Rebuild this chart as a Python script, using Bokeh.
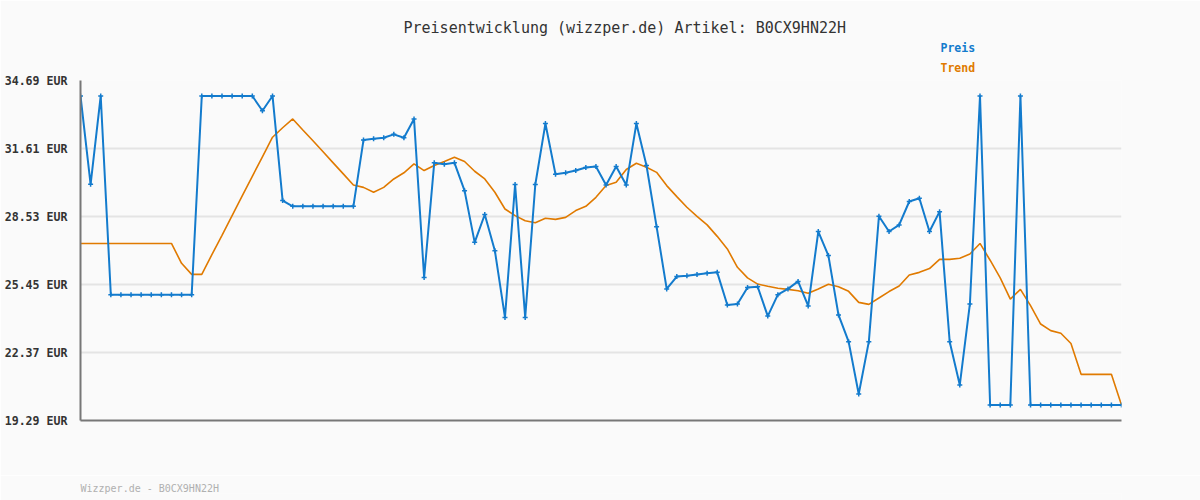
from bokeh.plotting import figure
from bokeh.models import Range1d, FixedTicker, PrintfTickFormatter, Title
from bokeh.layouts import column
from bokeh.embed import file_html
from bokeh.resources import INLINE

title_text = "Preisentwicklung (wizzper.de) Artikel: B0CX9HN22H"
footer_text = "Wizzper.de - B0CX9HN22H"
series_names = ["Preis", "Trend"]
y_ticks = [19.29, 22.37, 25.45, 28.53, 31.61, 34.69]

preis = [
    33.99, 29.99, 33.99,
    24.99, 24.99, 24.99, 24.99, 24.99, 24.99, 24.99, 24.99, 24.99,
    33.99, 33.99, 33.99, 33.99, 33.99, 33.99,
    33.32, 33.99, 29.25,
    28.99, 28.99, 28.99, 28.99, 28.99, 28.99, 28.99,
    31.99, 32.05, 32.10, 32.25, 32.10, 32.95, 25.77, 30.96, 30.90, 30.96,
    29.70, 27.36, 28.62, 26.98, 23.96, 29.98, 23.96, 29.98, 32.74, 30.44,
    30.51, 30.61, 30.75, 30.79, 29.96, 30.79, 29.96, 32.74, 30.84, 28.07,
    25.25, 25.81, 25.85, 25.90, 25.96, 26.00, 24.52, 24.57, 25.31, 25.35,
    24.02, 24.99, 25.25, 25.59, 24.48, 27.85, 26.76, 24.07, 22.86, 20.49,
    22.86, 28.54, 27.85, 28.15, 29.21, 29.36, 27.85, 28.75, 22.86, 20.90,
    24.57, 33.99,
    19.99, 19.99, 19.99, 33.99,
    19.99, 19.99, 19.99, 19.99, 19.99, 19.99, 19.99, 19.99, 19.99, 19.99,
]

trend = [
    27.31, 27.31, 27.31, 27.31, 27.31, 27.31, 27.31, 27.31, 27.31, 27.31,
    26.41, 25.91, 25.91, 26.80, 27.68, 28.57, 29.46, 30.35, 31.23, 32.12,
    32.55, 32.95, 32.45, 31.96, 31.46, 30.96, 30.46, 29.96, 29.85, 29.63,
    29.85, 30.23, 30.51, 30.91, 30.61, 30.84, 31.02, 31.21, 31.02, 30.58,
    30.23, 29.63, 28.87, 28.57, 28.34, 28.25, 28.45, 28.40, 28.49, 28.80,
    28.99, 29.40, 29.93, 30.08, 30.66, 30.94, 30.76, 30.53, 29.93, 29.43,
    28.95, 28.54, 28.15, 27.63, 27.06, 26.23, 25.75, 25.47, 25.37, 25.28,
    25.23, 25.17, 25.05, 25.25, 25.46, 25.35, 25.14, 24.64, 24.55, 24.84,
    25.13, 25.38, 25.88, 26.00, 26.17, 26.59, 26.59, 26.64, 26.83, 27.31,
    26.55, 25.75, 24.79, 25.23, 24.49, 23.66, 23.36, 23.24, 22.78, 21.38,
    21.38, 21.38, 21.38, 19.99,
]

idx = list(range(len(preis)))

BLUE = "#137bcd"
ORANGE = "#e07a00"
BG = "#fafafa"
MONO = "DejaVu Sans Mono"

p = figure(width=1200, height=475, output_backend="svg", toolbar_location=None, title=None,
           x_range=Range1d(0, len(preis) - 1), y_range=Range1d(y_ticks[0], y_ticks[-1]),
           min_border_left=80, min_border_right=79, min_border_top=80, min_border_bottom=55,
           background_fill_color=BG, border_fill_color=BG, outline_line_color=None)

# axes
p.xaxis.ticker = FixedTicker(ticks=[])
p.xaxis.major_tick_line_color = None
p.xaxis.minor_tick_line_color = None
p.xaxis.axis_line_color = "#777777"
p.xaxis.axis_line_width = 2
p.xgrid.grid_line_color = None

p.yaxis.ticker = FixedTicker(ticks=y_ticks)
p.yaxis.formatter = PrintfTickFormatter(format="%.2f EUR")
p.yaxis.major_tick_line_color = None
p.yaxis.minor_tick_line_color = None
p.yaxis.axis_line_color = "#777777"
p.yaxis.axis_line_width = 2
p.yaxis.major_label_text_font = MONO
p.yaxis.major_label_text_font_style = "bold"
p.yaxis.major_label_text_font_size = "11.6px"
p.yaxis.major_label_text_color = "#333333"
p.yaxis.major_label_standoff = 7

p.ygrid.ticker = FixedTicker(ticks=y_ticks)
p.ygrid.grid_line_color = "#e4e4e4"
p.ygrid.grid_line_width = 2

# series
p.line(idx, trend, line_color=ORANGE, line_width=1.6)
p.line(idx, preis, line_color=BLUE, line_width=2)
p.scatter(idx, preis, marker="cross", size=5, line_color=BLUE, line_width=1.5)

# heading rows (first added sits closest to the plot frame)
p.add_layout(Title(text=series_names[1], align="left", offset=860, standoff=8, vertical_align="top",
                   text_font=MONO, text_font_size="11.5px", text_font_style="bold",
                   text_color=ORANGE), "above")
p.add_layout(Title(text=series_names[0], align="left", offset=860, standoff=4, vertical_align="bottom",
                   text_font=MONO, text_font_size="11.5px", text_font_style="bold",
                   text_color=BLUE), "above")
p.add_layout(Title(text=title_text, align="left", offset=323, standoff=0, vertical_align="bottom",
                   text_font=MONO, text_font_size="15px", text_font_style="normal",
                   text_color="#333333"), "above")

# footer strip
f = figure(width=1200, height=25, output_backend="svg", toolbar_location=None, title=None,
           x_range=Range1d(0, 1), y_range=Range1d(0, 1),
           min_border_left=80, min_border_right=79, min_border_top=18, min_border_bottom=0,
           background_fill_color=BG, border_fill_color=BG, outline_line_color=None)
f.xaxis.visible = False
f.yaxis.visible = False
f.xgrid.visible = False
f.ygrid.visible = False
f.add_layout(Title(text=footer_text, align="left", offset=0, standoff=0, vertical_align="bottom",
                   text_font=MONO, text_font_size="10px", text_font_style="normal",
                   text_color="#b0b0b0"), "above")

layout = column(p, f, spacing=0)
open("out.html", "w").write(file_html(layout, INLINE))
